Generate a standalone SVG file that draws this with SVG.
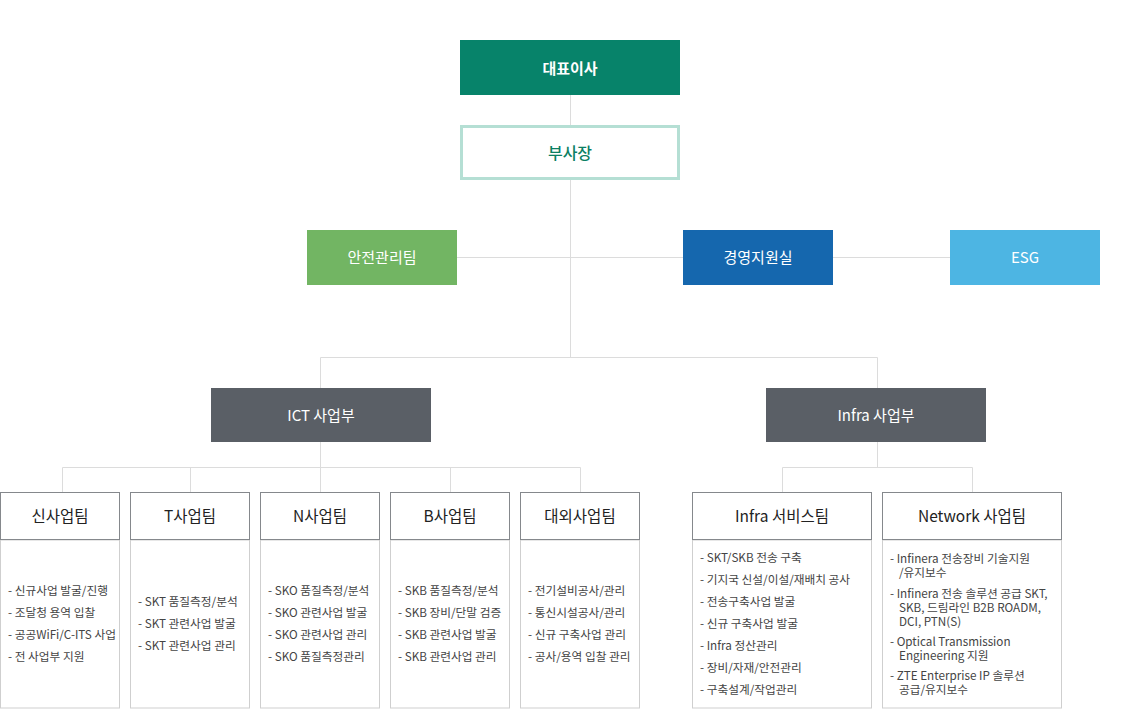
<svg xmlns="http://www.w3.org/2000/svg" width="1140" height="709" viewBox="0 0 1140 709">
<style>
text{font-family:"Noto Sans CJK KR","Noto Sans",sans-serif}
.ln{stroke:#dcdcdc;stroke-width:1;fill:none}
.wt{fill:#fff;font-size:15px;text-anchor:middle}
.hd{fill:#fff;stroke:#85888c;stroke-width:1}
.bd{fill:#fff;stroke:#cfcfcf;stroke-width:1}
.ht{fill:#222;font-size:15.5px;text-anchor:middle}
.it{fill:#444;font-size:11.7px}
</style>
<rect width="1140" height="709" fill="#fff"/>
<g id="connectors">
<path class="ln" d="M570.5 95V125M570.5 180V357.5M457 257.5H950M320.5 357.5H877.5M320.5 357.5V388M877.5 357.5V388"/>
<path class="ln" d="M320.5 442V467.5M62.5 467.5H580.5M62.5 467.5V492M190.5 467.5V492M320.5 467.5V492M450.5 467.5V492M580.5 467.5V492"/>
<path class="ln" d="M877.5 442V467.5M782.5 467.5H972.5M782.5 467.5V492M972.5 467.5V492"/>
</g>
<g id="ceo"><rect x="460" y="40" width="220" height="55" fill="#07836a"/><text class="wt" x="570" y="74" font-size="17" font-weight="bold">대표이사</text></g>
<g id="vp"><rect x="461.5" y="126.5" width="217" height="52" fill="#fff" stroke="#b5dfd4" stroke-width="3"/><text x="570" y="158.5" font-size="16" fill="#0b7f63" text-anchor="middle" font-weight="500">부사장</text></g>
<g id="safety"><rect x="307" y="230" width="150" height="55" fill="#72b563"/><text class="wt" x="382" y="263">안전관리팀</text></g>
<g id="mgmt"><rect x="683" y="230" width="150" height="55" fill="#1567ae"/><text class="wt" x="758" y="263">경영지원실</text></g>
<g id="esg"><rect x="950" y="230" width="150" height="55" fill="#4db5e3"/><text class="wt" x="1025" y="263">ESG</text></g>
<g id="ict"><rect x="211" y="388" width="220" height="54" fill="#5a5f66"/><text class="wt" x="321" y="420.5" font-size="14.5">ICT 사업부</text></g>
<g id="infra"><rect x="766" y="388" width="220" height="54" fill="#5a5f66"/><text class="wt" x="876" y="420.5" font-size="14.5">Infra 사업부</text></g>

<g id="team-new">
<rect class="bd" x="0.5" y="540" width="119" height="168"/><rect class="hd" x="0.5" y="492.5" width="119" height="47"/>
<text class="ht" x="60" y="522">신사업팀</text>
<text class="it" x="8" y="595">- 신규사업 발굴/진행</text>
<text class="it" x="8" y="617">- 조달청 용역 입찰</text>
<text class="it" x="8" y="639">- 공공WiFi/C-ITS 사업</text>
<text class="it" x="8" y="661">- 전 사업부 지원</text>
</g>
<g id="team-t">
<rect class="bd" x="130.5" y="540" width="119" height="168"/><rect class="hd" x="130.5" y="492.5" width="119" height="47"/>
<text class="ht" x="190" y="522">T사업팀</text>
<text class="it" x="138" y="606">- SKT 품질측정/분석</text>
<text class="it" x="138" y="628">- SKT 관련사업 발굴</text>
<text class="it" x="138" y="650">- SKT 관련사업 관리</text>
</g>
<g id="team-n">
<rect class="bd" x="260.5" y="540" width="119" height="168"/><rect class="hd" x="260.5" y="492.5" width="119" height="47"/>
<text class="ht" x="320" y="522">N사업팀</text>
<text class="it" x="268" y="595">- SKO 품질측정/분석</text>
<text class="it" x="268" y="617">- SKO 관련사업 발굴</text>
<text class="it" x="268" y="639">- SKO 관련사업 관리</text>
<text class="it" x="268" y="661">- SKO 품질측정관리</text>
</g>
<g id="team-b">
<rect class="bd" x="390.5" y="540" width="119" height="168"/><rect class="hd" x="390.5" y="492.5" width="119" height="47"/>
<text class="ht" x="450" y="522">B사업팀</text>
<text class="it" x="398" y="595">- SKB 품질측정/분석</text>
<text class="it" x="398" y="617">- SKB 장비/단말 검증</text>
<text class="it" x="398" y="639">- SKB 관련사업 발굴</text>
<text class="it" x="398" y="661">- SKB 관련사업 관리</text>
</g>
<g id="team-ext">
<rect class="bd" x="520.5" y="540" width="119" height="168"/><rect class="hd" x="520.5" y="492.5" width="119" height="47"/>
<text class="ht" x="580" y="522">대외사업팀</text>
<text class="it" x="528" y="595">- 전기설비공사/관리</text>
<text class="it" x="528" y="617">- 통신시설공사/관리</text>
<text class="it" x="528" y="639">- 신규 구축사업 관리</text>
<text class="it" x="528" y="661">- 공사/용역 입찰 관리</text>
</g>
<g id="team-infra">
<rect class="bd" x="692.5" y="540" width="179" height="168"/><rect class="hd" x="692.5" y="492.5" width="179" height="47"/>
<text class="ht" x="782" y="522">Infra 서비스팀</text>
<text class="it" x="700" y="562">- SKT/SKB 전송 구축</text>
<text class="it" x="700" y="584">- 기지국 신설/이설/재배치 공사</text>
<text class="it" x="700" y="606">- 전송구축사업 발굴</text>
<text class="it" x="700" y="628">- 신규 구축사업 발굴</text>
<text class="it" x="700" y="650">- Infra 정산관리</text>
<text class="it" x="700" y="672">- 장비/자재/안전관리</text>
<text class="it" x="700" y="694">- 구축설계/작업관리</text>
</g>
<g id="team-network">
<rect class="bd" x="882.5" y="540" width="179" height="168"/><rect class="hd" x="882.5" y="492.5" width="179" height="47"/>
<text class="ht" x="972" y="522">Network 사업팀</text>
<text class="it" x="890" y="563">- Infinera 전송장비 기술지원<tspan x="899" dy="14">/유지보수</tspan></text>
<text class="it" x="890" y="598">- Infinera 전송 솔루션 공급 SKT,<tspan x="899" dy="14">SKB, 드림라인 B2B ROADM,</tspan><tspan x="899" dy="14">DCI, PTN(S)</tspan></text>
<text class="it" x="890" y="646">- Optical Transmission<tspan x="899" dy="14">Engineering 지원</tspan></text>
<text class="it" x="890" y="680">- ZTE Enterprise IP 솔루션<tspan x="899" dy="14">공급/유지보수</tspan></text>
</g>
</svg>
